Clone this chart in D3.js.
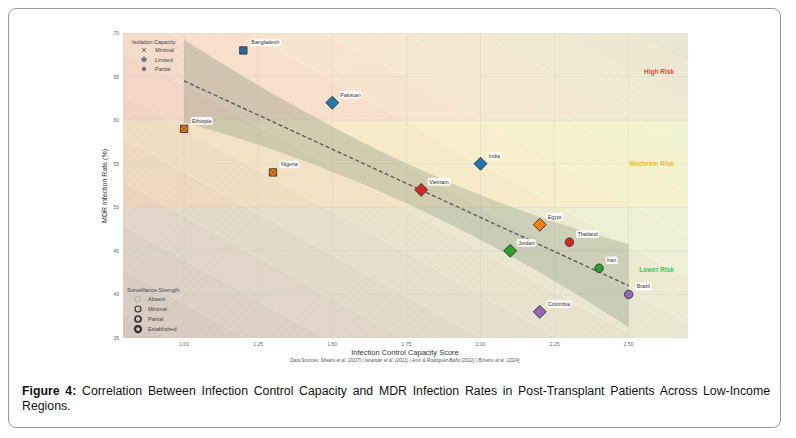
<!DOCTYPE html>
<html><head><meta charset="utf-8">
<script src="https://cdn.jsdelivr.net/npm/d3@7"></script>
<style>
body{margin:0;background:#fff;font-family:"Liberation Sans",Arial,sans-serif}
#card{position:absolute;left:8px;top:8px;width:773px;height:420px;border:1px solid #9a9a9a;border-radius:8px;box-sizing:border-box}
#cap{position:absolute;left:22px;top:384px;width:748px;font-size:12.3px;line-height:15px;text-align:justify;color:#111}
</style></head>
<body>
<div id="card"></div>
<svg id="chart" width="796" height="438" style="position:absolute;left:0;top:0"></svg>
<div id="cap"><b>Figure 4:</b>&nbsp;Correlation Between Infection Control Capacity and MDR Infection Rates in Post-Transplant Patients Across Low-Income Regions.</div>
<script>
var countries = ["Bangladesh","Pakistan","Ethiopia","Nigeria","India","Vietnam","Egypt","Thailand","Jordan","Iran","Brazil","Colombia"];
var capacity  = [1.2, 1.5, 1.0, 1.3, 2.0, 1.8, 2.2, 2.3, 2.1, 2.4, 2.5, 2.2];
var mdrRate   = [68, 62, 59, 54, 55, 52, 48, 46, 45, 43, 40, 38];
var isolation = ["Minimal","Limited","Minimal","Minimal","Limited","Limited","Limited","Partial","Limited","Partial","Partial","Limited"];
var colors    = ["#1f77b4","#1f77b4","#ff7f0e","#ff7f0e","#1f77b4","#d62728","#ff7f0e","#d62728","#2ca02c","#2ca02c","#9467bd","#9467bd"];
var xTicks = [1.00, 1.25, 1.50, 1.75, 2.00, 2.25, 2.50];
var yTicks = [35, 40, 45, 50, 55, 60, 65, 70];
var trendEnds = [[1.0, 64.5], [2.5, 41]];
var riskZones = [{name:"High Risk", lo:60, hi:70, fill:"#ffb0a0", text:"#e84a3a"},
                 {name:"Moderate Risk", lo:50, hi:60, fill:"#ffee90", text:"#e8c21a"},
                 {name:"Lower Risk", lo:35, hi:50, fill:"#c8f5c0", text:"#3cc65a"}];
var survLevels = ["Absent","Minimal","Partial","Established"];

var svg = d3.select("#chart");
svg.append("rect").attr("x",95).attr("y",25).attr("width",596).attr("height",348).attr("fill","#fff");

var x = d3.scaleLinear().domain([0.794, 2.70]).range([123, 688]);
var y = d3.scaleLinear().domain([35, 70]).range([338, 33]);

svg.append("clipPath").attr("id","clip").append("rect")
  .attr("x",123).attr("y",33).attr("width",565).attr("height",305);
var plot = svg.append("g").attr("clip-path","url(#clip)");

// diagonal background bands, v = y + 19x
var col = d3.scaleLinear().domain([50, 75, 95, 110, 122])
  .range(["#d8bcbc","#ecd9cc","#f6efd8","#eef6dc","#e0f2dc"]);
for (var c = 48; c < 124; c += 5) {
  plot.append("path").attr("fill", col(c + 2.5))
    .attr("d", d3.line()([[x(0.5),y(c-19*0.5)],[x(3),y(c-19*3)],[x(3),y(c+5-19*3)],[x(0.5),y(c+5-19*0.5)]]));
}
riskZones.forEach(function(z){
  plot.append("rect").attr("x",123).attr("width",565)
    .attr("y",y(z.hi)).attr("height",y(z.lo)-y(z.hi))
    .attr("fill",z.fill).attr("opacity",0.18);
});
var pat = svg.append("defs").append("pattern").attr("id","hatch").attr("patternUnits","userSpaceOnUse")
  .attr("width",6).attr("height",6).attr("patternTransform","rotate(45)");
pat.append("line").attr("x1",0).attr("y1",0).attr("x2",0).attr("y2",6).attr("stroke","#fff").attr("stroke-width",0.6).attr("opacity",0.3);
plot.append("rect").attr("x",123).attr("y",33).attr("width",565).attr("height",305).attr("fill","url(#hatch)");

// grid
plot.selectAll(".gx").data(xTicks).enter().append("line")
  .attr("x1",d=>x(d)).attr("x2",d=>x(d)).attr("y1",33).attr("y2",338).attr("stroke","#ccc").attr("stroke-width",0.5).attr("opacity",0.7);
plot.selectAll(".gy").data(yTicks).enter().append("line")
  .attr("y1",d=>y(d)).attr("y2",d=>y(d)).attr("x1",123).attr("x2",688).attr("stroke","#ccc").attr("stroke-width",0.5).attr("opacity",0.7);

// confidence band
var slope = (trendEnds[1][1]-trendEnds[0][1])/(trendEnds[1][0]-trendEnds[0][0]);
function fit(v){ return trendEnds[0][1] + slope*(v-trendEnds[0][0]); }
var xs = d3.range(1.0, 2.5001, 0.05);
function half(v){ return 2.3 + 4.4*(v-1.75)*(v-1.75); }
var band = xs.map(v=>[x(v), y(fit(v)+half(v))]).concat(xs.slice().reverse().map(v=>[x(v), y(fit(v)-half(v))]));
plot.append("path").attr("d", d3.line()(band)+"Z").attr("fill","#4d644d").attr("opacity",0.2);
plot.append("line").attr("x1",x(trendEnds[0][0])).attr("y1",y(trendEnds[0][1]))
  .attr("x2",x(trendEnds[1][0])).attr("y2",y(trendEnds[1][1]))
  .attr("stroke","#555").attr("stroke-width",1.3).attr("stroke-dasharray","4,2.5");

// risk labels
riskZones.forEach(function(z, i){
  var yy = i==2 ? 42.8 : (z.lo+z.hi)/2 + (i==0?0.5:0);
  svg.append("text").attr("x",674).attr("y",y(yy)+2).attr("text-anchor","end")
    .attr("font-size",6.5).attr("font-weight","bold").attr("fill",z.text).text(z.name);
});

// axes
var ax = svg.append("g").attr("font-size",5);
ax.selectAll(".tx").data(xTicks).enter().append("text").attr("x",d=>x(d)).attr("y",346).attr("text-anchor","middle").attr("fill","#666").text(d=>d3.format(".2f")(d));
ax.selectAll(".ty").data(yTicks).enter().append("text").attr("x",119).attr("y",d=>y(d)+2).attr("text-anchor","end").attr("fill","#666").text(d=>d);
svg.append("text").attr("x",405).attr("y",355).attr("text-anchor","middle").attr("font-size",7.5).attr("fill","#333").text("Infection Control Capacity Score");
svg.append("text").attr("x",405).attr("y",362).attr("text-anchor","middle").attr("font-size",4.6).attr("font-style","italic").attr("fill","#555")
  .text("Data Sources: Shears et al. (2007) | Iskandar et al. (2021) | Amir & Rodriguez-Baño (2022) | Bimenu et al. (2024)");
svg.append("text").attr("transform","translate(107,186) rotate(-90)").attr("text-anchor","middle").attr("font-size",7).attr("fill","#333").text("MDR Infection Rate (%)");

// markers
function markerPath(kind, s){
  if (kind=="Limited") return d3.symbol(d3.symbolSquare, s*s*1.7)();
  if (kind=="Partial") return d3.symbol(d3.symbolCircle, s*s*1.15)();
  return d3.symbol(d3.symbolSquare, s*s*1.1)();
}
var pts = svg.append("g");
countries.forEach(function(name, i){
  var g = pts.append("g").attr("transform","translate("+x(capacity[i])+","+y(mdrRate[i])+")");
  var kind = isolation[i];
  g.append("path").attr("d", markerPath(kind, 7))
    .attr("transform", kind=="Limited" ? "rotate(45)" : null)
    .attr("fill", colors[i]).attr("stroke","#333").attr("stroke-width",0.9);
  if (kind=="Minimal") {
    g.append("path").attr("d","M-3,-3L3,3M-3,3L3,-3").attr("stroke","#444").attr("stroke-width",1.1).attr("opacity",0.6);
  }
  var t = g.append("text").attr("x",8).attr("y",-6).attr("font-size",5.3).attr("fill","#333").text(name);
  var bb = t.node().getBBox();
  g.insert("rect","text").attr("x",bb.x-1.5).attr("y",bb.y-0.8).attr("width",bb.width+3).attr("height",bb.height+1.6)
    .attr("rx",1.5).attr("fill","#fff").attr("opacity",0.85);
});

// isolation legend
var lg = svg.append("g").attr("font-size",5.5);
lg.append("text").attr("x",132).attr("y",44).attr("fill","#444").text("Isolation Capacity");
["Minimal","Limited","Partial"].forEach(function(k, i){
  var yy = 52 + i*9.5;
  var m = lg.append("g").attr("transform","translate(144,"+(yy-2)+")");
  if (k=="Minimal") m.append("path").attr("d","M-2,-2L2,2M-2,2L2,-2").attr("stroke","#666").attr("stroke-width",1);
  else m.append("path").attr("d", markerPath(k,3.6)).attr("transform",k=="Limited"?"rotate(45)":null).attr("fill","#777");
  lg.append("text").attr("x",155).attr("y",yy).attr("fill","#444").text(k);
});
// surveillance legend
lg.append("text").attr("x",127).attr("y",292).attr("fill","#444").text("Surveillance Strength");
survLevels.forEach(function(k, i){
  var yy = 301 + i*10;
  lg.append("circle").attr("cx",138).attr("cy",yy-2).attr("r",3).attr("fill","none")
    .attr("stroke", i==0 ? "#999" : "#333").attr("stroke-width",0.6+i*0.55);
  lg.append("text").attr("x",148).attr("y",yy).attr("fill","#444").text(k);
});
</script>
</body></html>
